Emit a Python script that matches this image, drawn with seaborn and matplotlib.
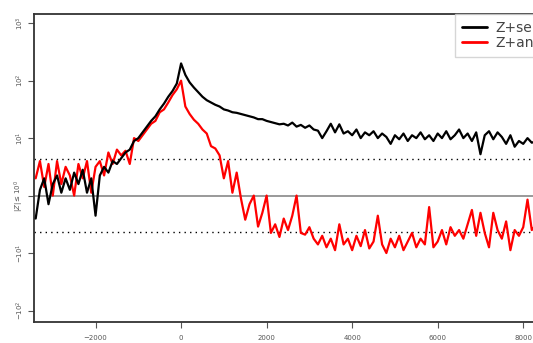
import matplotlib
matplotlib.use("Agg")
import matplotlib.pyplot as plt
import seaborn as sns
import numpy as np
import pandas as pd

# positions relative to the site (bp)
positions = np.arange(-3400, 8301, 100)

# signed log10 of Z, 0 means |Z| <= 10^0
z_sense = [
    -0.4, 0.1, 0.3, -0.15, 0.2, 0.35, 0.05, 0.3, 0.1, 0.4,
    0.2, 0.45, 0.05, 0.3, -0.35, 0.35, 0.5, 0.4, 0.6, 0.55,
    0.65, 0.75, 0.8, 0.95, 1.0, 1.1, 1.2, 1.3, 1.38, 1.5,
    1.6, 1.72, 1.82, 1.95, 2.3, 2.1, 1.97, 1.88, 1.8, 1.72,
    1.66, 1.62, 1.58, 1.55, 1.5, 1.48, 1.45, 1.44, 1.42, 1.4,
    1.38, 1.36, 1.33, 1.33, 1.3, 1.28, 1.26, 1.24, 1.25, 1.22,
    1.27, 1.2, 1.23, 1.18, 1.22, 1.15, 1.13, 1.0, 1.12, 1.25,
    1.1, 1.24, 1.08, 1.12, 1.05, 1.15, 1.0, 1.1, 1.05, 1.12,
    1.0, 1.08, 1.02, 0.9, 1.05, 0.98, 1.08, 0.95, 1.05, 1.0,
    1.1, 0.98, 1.05, 0.95, 1.08, 1.0, 1.12, 0.98, 1.05, 1.15,
    1.0, 1.08, 0.95, 1.1, 0.72, 1.05, 1.12, 0.98, 1.1, 1.02,
    0.9, 1.05, 0.85, 0.95, 0.9, 1.0, 0.92, 0.95,
]
z_antisense = [
    0.3, 0.6, 0.15, 0.55, 0.0, 0.6, 0.2, 0.5, 0.35, 0.0,
    0.55, 0.3, 0.6, 0.05, 0.5, 0.6, 0.35, 0.75, 0.55, 0.8,
    0.7, 0.78, 0.55, 1.0, 0.95, 1.05, 1.15, 1.25, 1.3, 1.45,
    1.5, 1.62, 1.75, 1.85, 2.0, 1.55, 1.42, 1.32, 1.25, 1.15,
    1.08, 0.86, 0.82, 0.7, 0.3, 0.6, 0.05, 0.4, -0.05, -0.42,
    -0.15, 0.0, -0.54, -0.3, 0.0, -0.65, -0.5, -0.72, -0.4, -0.6,
    -0.35, 0.0, -0.65, -0.68, -0.55, -0.75, -0.85, -0.7, -0.9, -0.75,
    -0.95, -0.5, -0.85, -0.75, -0.95, -0.7, -0.88, -0.6, -0.92, -0.8,
    -0.35, -0.85, -1.0, -0.75, -0.9, -0.7, -0.95, -0.8, -0.65, -0.9,
    -0.75, -0.85, -0.2, -0.9, -0.8, -0.6, -0.85, -0.55, -0.7, -0.6,
    -0.75, -0.5, -0.25, -0.7, -0.3, -0.65, -0.9, -0.3, -0.6, -0.75,
    -0.45, -0.95, -0.6, -0.7, -0.55, -0.07, -0.6, -0.5,
]
threshold = 0.63

y_ticks = [3, 2, 1, 0, -1, -2]
y_labels = [r'$10^3$', r'$10^2$', r'$10^1$', r'$|Z|\leq10^0$', r'$-10^1$', r'$-10^2$']
x_ticks = [-2000, 0, 2000, 4000, 6000, 8000]

df = pd.DataFrame({
    'pos': np.concatenate([positions, positions]),
    'z': z_sense + z_antisense,
    'strand': ['Z+sense'] * len(positions) + ['Z+antisense'] * len(positions),
})

sns.set_style("white")
plt.rcParams['font.family'] = ['DejaVu Sans']

fig = plt.figure(figsize=(5.33, 3.43), dpi=100)
ax = fig.add_axes([34 / 533, 1 - 322 / 343, 532 / 533, (322 - 14) / 343])

ax.axhline(0, color='#888888', lw=1.2, zorder=1)
ax.axhline(threshold, color='black', lw=1.0, ls=(0, (1, 3)), zorder=1)
ax.axhline(-threshold, color='black', lw=1.0, ls=(0, (1, 3)), zorder=1)

sns.lineplot(data=df[df.strand == 'Z+antisense'], x='pos', y='z', color='red',
             lw=1.6, ax=ax, zorder=2, label='Z+antisense')
sns.lineplot(data=df[df.strand == 'Z+sense'], x='pos', y='z', color='black',
             lw=1.6, ax=ax, zorder=3, label='Z+sense')

ax.set_xlim(-3439, 9000)
ax.set_ylim(-2.2, 3.16)
ax.set_xlabel('')
ax.set_ylabel('')

ax.set_xticks(x_ticks)
ax.set_xticklabels([str(t).replace('-', '\u2212') for t in x_ticks])
ax.set_yticks(y_ticks)
ax.set_yticklabels(y_labels, rotation=90, va='center')
ax.tick_params(axis='both', direction='out', length=4, width=0.8, color='#555555',
               labelsize=5, labelcolor='#555555', pad=2)
ax.tick_params(axis='x', pad=5)
ax.tick_params(left=True, bottom=True)

for s in ax.spines.values():
    s.set_color('#333333')
    s.set_linewidth(1.3)

handles, labels = ax.get_legend_handles_labels()
leg = ax.legend(handles[::-1], labels[::-1], loc='upper left',
                bbox_to_anchor=((455 - 34) / 532, 1.0), borderaxespad=0,
                fontsize=10, frameon=True, fancybox=False, edgecolor='#cccccc',
                handlelength=1.8, handletextpad=0.6, borderpad=0.5,
                labelspacing=0.1, labelcolor='#444444')
for line in leg.get_lines():
    line.set_linewidth(2)

fig.savefig('out.png', dpi=100)
